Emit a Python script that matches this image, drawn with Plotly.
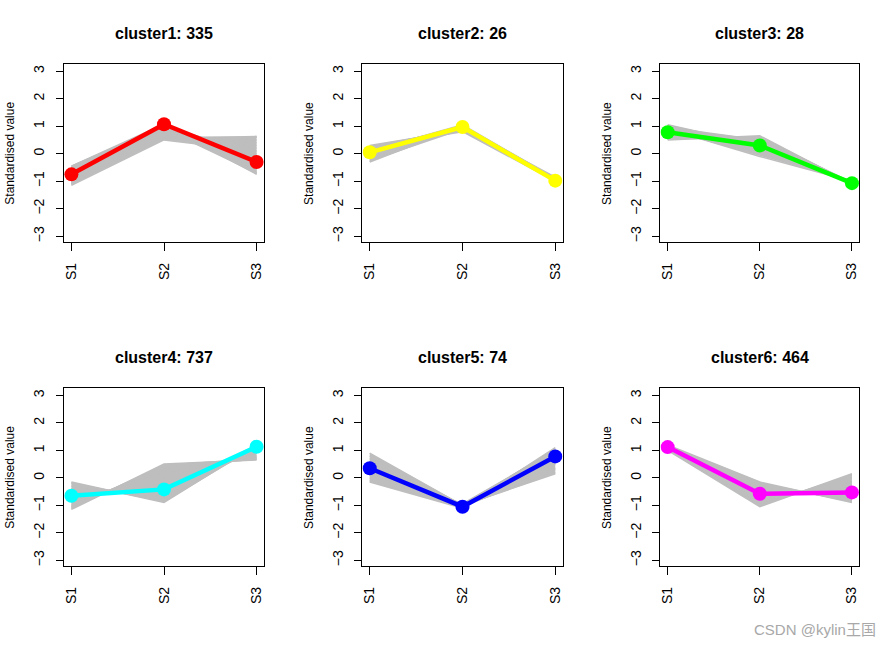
import plotly.graph_objects as go

samples = ["S1", "S2", "S3"]
cluster_names = ["cluster1", "cluster2", "cluster3", "cluster4", "cluster5", "cluster6"]
cluster_sizes = [335, 26, 28, 737, 74, 464]
center_colors = ["#FF0000", "#FFFF00", "#00FF00", "#00FFFF", "#0000FF", "#FF00FF"]

centers_c1 = [-0.75, 1.07, -0.30]
centers_c2 = [0.05, 0.97, -0.98]
centers_c3 = [0.78, 0.30, -1.07]
centers_c4 = [-0.65, -0.42, 1.13]
centers_c5 = [0.35, -1.05, 0.78]
centers_c6 = [1.12, -0.58, -0.53]

members_c1 = [
    [-0.45, 1.00, -0.60], [-0.60, 0.90, -0.50], [-0.80, 0.60, 0.60], [-1.15, 0.50, 0.10],
    [-1.00, 0.55, 0.63], [-0.70, 1.05, -0.75], [-0.90, 0.80, -0.30], [-1.10, 0.70, 0.40],
    [-0.50, 0.75, 0.20], [-1.05, 0.95, -0.65], [-0.65, 0.65, -0.10], [-0.85, 1.00, 0.00],
    [-0.55, 0.55, 0.50], [-0.95, 0.90, -0.70], [-0.75, 0.70, 0.30], [-1.10, 1.05, -0.40],
    [-0.45, 1.08, -0.72], [-0.55, 0.52, 0.60],
]
members_c2 = [
    [0.30, 0.85, -0.90], [0.20, 0.95, -0.85], [-0.30, 1.00, -0.95], [-0.25, 0.90, -1.00],
    [0.10, 1.05, -0.90], [0.25, 0.80, -1.00], [-0.10, 0.90, -0.95], [0.15, 1.00, -1.00],
    [0.05, 0.85, -0.88],
]
members_c3 = [
    [1.05, 0.30, -1.05], [0.50, 0.65, -1.10], [0.90, -0.10, -1.00], [0.60, 0.60, -1.05],
    [1.00, 0.00, -1.00], [0.70, 0.45, -1.10], [0.80, 0.10, -1.00], [0.55, 0.55, -1.05],
    [0.95, 0.50, -1.08],
]
members_c4 = [
    [-0.15, -0.90, 1.20], [-1.15, 0.50, 0.65], [-0.30, -0.70, 1.10], [-1.00, 0.30, 0.75],
    [-0.50, -0.50, 1.00], [-0.80, 0.00, 0.90], [-0.20, -0.85, 1.15], [-1.10, 0.45, 0.70],
    [-0.65, -0.30, 1.05], [-0.90, 0.20, 0.80], [-0.40, -0.60, 1.20], [-1.05, 0.40, 0.68],
]
members_c5 = [
    [0.90, -1.00, 0.20], [0.80, -1.05, 0.30], [0.70, -1.00, 0.15], [-0.15, -1.10, 1.10],
    [0.00, -1.05, 0.90], [0.20, -1.00, 0.60], [0.50, -1.05, 0.50], [-0.10, -0.95, 1.00],
    [0.30, -1.10, 0.80], [0.60, -1.00, 0.35], [0.10, -1.05, 1.05], [0.40, -0.95, 0.70],
]
members_c6 = [
    [1.20, -0.15, -0.90], [1.00, -1.05, 0.15], [1.10, -0.30, -0.80], [1.05, -0.90, 0.00],
    [1.15, -0.50, -0.60], [1.10, -0.70, -0.30], [1.00, -0.20, -0.85], [1.20, -1.00, 0.10],
    [1.12, -0.60, -0.45], [1.05, -0.40, -0.70], [1.15, -0.80, -0.15],
]

centers = [centers_c1, centers_c2, centers_c3, centers_c4, centers_c5, centers_c6]
members = [members_c1, members_c2, members_c3, members_c4, members_c5, members_c6]

W, H = 893, 647
col_px = [(64, 264), (362.3, 562.7), (660.3, 859.3)]
row_px = [(64, 242.3), (388.3, 566.3)]
title_px = [33.3, 357.3]

fig = go.Figure()
xpos = [1, 2, 3]


def envelope(mem, steps=40):
    """Upper/lower envelope of the member profiles (piecewise linear)."""
    xs, lo, hi = [], [], []
    for seg in range(len(xpos) - 1):
        for k in range(steps + 1):
            if seg > 0 and k == 0:
                continue
            t = k / steps
            vals = [m[seg] + (m[seg + 1] - m[seg]) * t for m in mem]
            xs.append(xpos[seg] + t * (xpos[seg + 1] - xpos[seg]))
            lo.append(min(vals))
            hi.append(max(vals))
    return xs, lo, hi


for i in range(6):
    r, c = divmod(i, 3)
    ax = "" if i == 0 else str(i + 1)
    xa, ya = "x" + ax, "y" + ax
    ex, elo, ehi = envelope(members[i])
    fig.add_trace(go.Scatter(x=ex + ex[::-1], y=ehi + elo[::-1], mode="lines", fill="toself",
                             fillcolor="#BEBEBE", line=dict(width=0),
                             xaxis=xa, yaxis=ya, showlegend=False, hoverinfo="skip"))
    for m in members[i]:
        fig.add_trace(go.Scatter(x=xpos, y=m, mode="lines", xaxis=xa, yaxis=ya,
                                 line=dict(color="#BEBEBE", width=1.5), showlegend=False,
                                 hoverinfo="skip"))
    fig.add_trace(go.Scatter(x=xpos, y=centers[i], mode="lines+markers", xaxis=xa, yaxis=ya,
                             line=dict(color=center_colors[i], width=4.5),
                             marker=dict(color=center_colors[i], size=14, symbol="circle"),
                             showlegend=False))
    x0, x1 = col_px[c]
    y0, y1 = row_px[r]
    fig.layout["xaxis" + ax] = dict(
        domain=[x0 / W, x1 / W], anchor=ya, range=[0.92, 3.08],
        tickmode="array", tickvals=xpos, ticktext=samples, tickangle=-90,
        ticks="outside", ticklen=8, tickwidth=1, tickcolor="black",
        showline=True, linecolor="black", linewidth=1, mirror=True,
        showgrid=False, zeroline=False, fixedrange=True,
        tickfont=dict(family="Liberation Sans, Arial", size=14, color="black"),
        ticklabelstandoff=6,
    )
    fig.layout["yaxis" + ax] = dict(
        domain=[1 - y1 / H, 1 - y0 / H], anchor=xa, range=[-3.22, 3.26],
        tickmode="array", tickvals=[-3, -2, -1, 0, 1, 2, 3], tickangle=-90,
        ticks="outside", ticklen=7, tickwidth=1, tickcolor="black",
        showline=True, linecolor="black", linewidth=1, mirror=True,
        showgrid=False, zeroline=False, fixedrange=True,
        tickfont=dict(family="Liberation Sans, Arial", size=14, color="black"),
        ticklabelstandoff=6,
    )
    fig.add_annotation(text="<b>%s: %d</b>" % (cluster_names[i], cluster_sizes[i]),
                       xref="paper", yref="paper", x=(x0 + x1) / 2 / W, y=1 - title_px[r] / H,
                       showarrow=False, xanchor="center", yanchor="middle",
                       font=dict(family="Liberation Sans, Arial", size=16, color="black"))
    fig.add_annotation(text="Standardised value", textangle=-90,
                       xref="paper", yref="paper", x=(x0 - 53.5) / W, y=1 - (y0 + y1) / 2 / H,
                       showarrow=False, xanchor="center", yanchor="middle",
                       font=dict(family="Liberation Sans, Arial", size=12, color="black"))

fig.add_annotation(text="CSDN @kylin王国", xref="paper", yref="paper",
                   x=878 / W, y=1 - 629 / H, xanchor="right", yanchor="middle", showarrow=False,
                   font=dict(family="Liberation Sans, Noto Sans CJK SC", size=15, color="#A8A8A8"))

fig.update_layout(width=W, height=H, margin=dict(l=0, r=0, t=0, b=0),
                  paper_bgcolor="white", plot_bgcolor="white")
fig.write_html("out.html", config={"displayModeBar": False},
               post_script="document.body.style.margin='0';document.body.style.overflow='hidden';")
